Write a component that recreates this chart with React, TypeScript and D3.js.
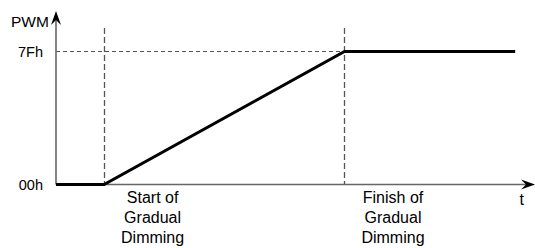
import React, { useEffect, useRef } from 'react';
import * as d3 from 'd3';

// PWM level over time (t in arbitrary units, pwm as 0x00..0x7F)
const times = [0, 1, 6, 9.55];
const pwmValues = [0, 0, 127, 127];
const markerTimes = [1, 6];
const markerLabels = [['Start of', 'Gradual', 'Dimming'], ['Finish of', 'Gradual', 'Dimming']];
const yTickValues = [0, 127];
const yTickLabels = ['00h', '7Fh'];

export default function App() {
  const svgRef = useRef<SVGSVGElement>(null);
  const W = 535, H = 248;

  useEffect(() => {
    const svg = d3.select(svgRef.current);
    svg.selectAll('*').remove();

    const x = d3.scaleLinear().domain([0, 9.9]).range([56, 532]);
    const y = d3.scaleLinear().domain([0, 127]).range([184.5, 51.5]);
    const font = 'Liberation Sans, Arial, sans-serif';
    const axisColor = '#666';
    const dashColor = '#555';

    // Guides
    svg.append('line')
      .attr('x1', x(0)).attr('x2', x(markerTimes[1])).attr('y1', y(127)).attr('y2', y(127))
      .attr('stroke', dashColor).attr('stroke-width', 1.2).attr('stroke-dasharray', '4,3');
    markerTimes.forEach(t => {
      svg.append('line')
        .attr('x1', Math.round(x(t)) + 0.5).attr('x2', Math.round(x(t)) + 0.5).attr('y1', 28).attr('y2', y(0))
        .attr('stroke', dashColor).attr('stroke-width', 1.3).attr('stroke-dasharray', '6,3');
    });

    // Axes
    svg.append('line').attr('x1', x(0)).attr('x2', x(0)).attr('y1', y(0)).attr('y2', 16)
      .attr('stroke', axisColor).attr('stroke-width', 1.6);
    svg.append('path').attr('d', `M${x(0)},11 L${x(0) - 5},25 L${x(0)},20 L${x(0) + 5},25 Z`).attr('fill', '#000');
    svg.append('line').attr('x1', x(0)).attr('x2', 529).attr('y1', y(0)).attr('y2', y(0))
      .attr('stroke', axisColor).attr('stroke-width', 1.6);
    svg.append('path').attr('d', `M535,${y(0)} L521,${y(0) - 5} L526,${y(0)} L521,${y(0) + 5} Z`).attr('fill', '#000');

    // PWM curve
    const line = d3.line<number>().x((_, i) => x(times[i])).y(d => y(d));
    svg.append('path').attr('d', line(pwmValues)).attr('fill', 'none')
      .attr('stroke', '#000').attr('stroke-width', 3).attr('stroke-linejoin', 'miter');

    // Labels
    svg.append('text').attr('x', 11).attr('y', 26.5).attr('font-family', font).attr('font-size', 15.5).text('PWM');
    yTickValues.forEach((v, i) => {
      svg.append('text').attr('x', 43).attr('y', y(v) + 5.5).attr('text-anchor', 'end')
        .attr('font-family', font).attr('font-size', 14.5).text(yTickLabels[i]);
    });
    svg.append('text').attr('x', 519.5).attr('y', 205).attr('font-family', font).attr('font-size', 16).text('t');
    markerTimes.forEach((t, i) => {
      markerLabels[i].forEach((s, j) => {
        svg.append('text').attr('x', x(t) + 48.5).attr('y', 203 + j * 20).attr('text-anchor', 'middle')
          .attr('font-family', font).attr('font-size', 16).text(s);
      });
    });
  }, []);

  return (
    <svg ref={svgRef} width={W} height={H} viewBox={`0 0 ${W} ${H}`}
      style={{ position: 'absolute', left: 0, top: 0, background: '#fff' }} />
  );
}
